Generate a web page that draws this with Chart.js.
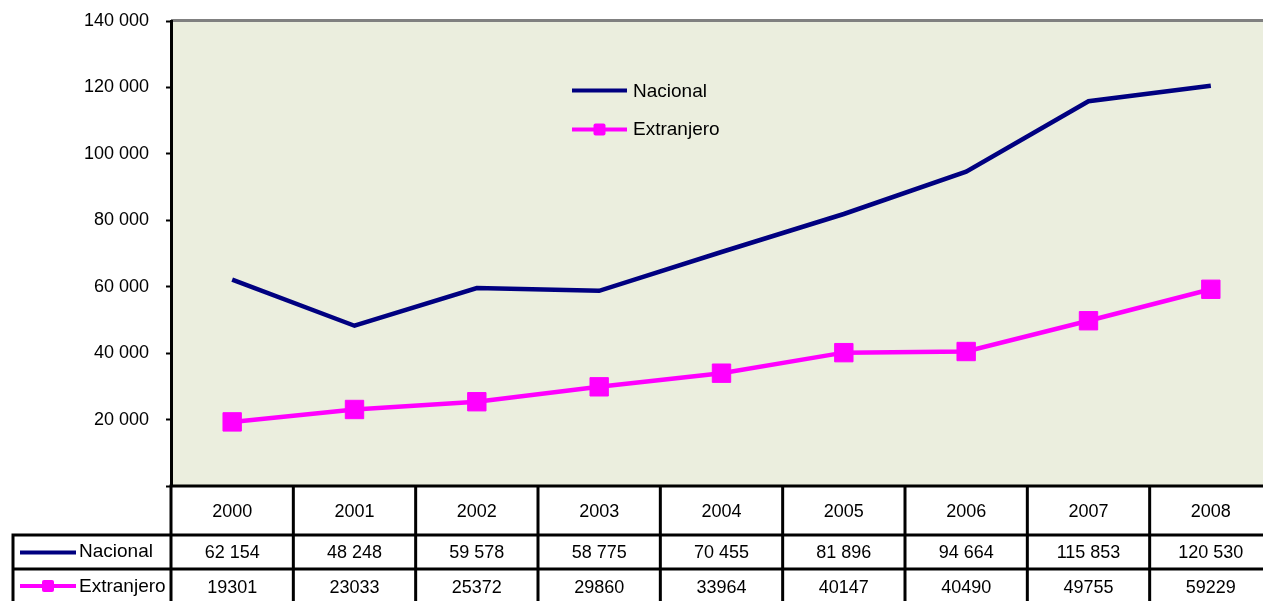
<!DOCTYPE html>
<html><head><meta charset="utf-8">
<script src="https://cdn.jsdelivr.net/npm/chart.js@4.4.1/dist/chart.umd.min.js"></script>
<style>html,body{margin:0;padding:0;overflow:hidden;background:#fff}canvas{display:block}</style>
</head><body>
<canvas id="c" width="1276" height="601"></canvas>
<script>
const years = ['2000','2001','2002','2003','2004','2005','2006','2007','2008'];
const nacional = [62154, 48248, 59578, 58775, 70455, 81896, 94664, 115853, 120530];
const extranjero = [19301, 23033, 25372, 29860, 33964, 40147, 40490, 49755, 59229];
const yTickValues = [0, 20000, 40000, 60000, 80000, 100000, 120000, 140000];
const seriesNames = ['Nacional', 'Extranjero'];

const FAM = '"Liberation Sans", Arial, sans-serif';
const FONT = '18px ' + FAM;
const NAVY = '#000080', MAG = '#FF00FF';
const fmt = v => String(v).replace(/\B(?=(\d{3})+(?!\d))/g, ' ');

function drawSwatch(ctx, x1, x2, y, color, marker, msize) {
  ctx.save();
  ctx.strokeStyle = color; ctx.lineWidth = 4; ctx.lineCap = 'butt';
  ctx.beginPath(); ctx.moveTo(x1, y); ctx.lineTo(x2, y); ctx.stroke();
  if (marker) {
    ctx.fillStyle = color;
    const cx = (x1 + x2) / 2;
    ctx.beginPath();
    if (ctx.roundRect) ctx.roundRect(cx - msize / 2, y - msize / 2, msize, msize, 2);
    else ctx.rect(cx - msize / 2, y - msize / 2, msize, msize);
    ctx.fill();
  }
  ctx.restore();
}

const deco = {
  id: 'deco',
  beforeDraw(chart) {
    const {ctx, chartArea: a} = chart;
    ctx.save();
    ctx.fillStyle = '#EBEEDE';
    ctx.fillRect(a.left, a.top, a.right - a.left, a.bottom - a.top);
    ctx.strokeStyle = '#808080'; ctx.lineWidth = 3;
    ctx.beginPath(); ctx.moveTo(a.left, a.top - 0.5); ctx.lineTo(chart.width, a.top - 0.5); ctx.stroke();
    ctx.restore();
  },
  afterDraw(chart) {
    const {ctx, chartArea: a} = chart;
    const xs = chart.scales.x;
    const n = years.length;
    const colW = (a.right - a.left) / n;
    const yTop = a.bottom, yH = 535, yR1 = 569, yEnd = chart.height + 2;
    const leftX = 13;
    ctx.save();
    ctx.fillStyle = '#fff';
    ctx.fillRect(a.left, yTop, chart.width - a.left, yEnd - yTop);
    ctx.strokeStyle = '#000'; ctx.lineWidth = 3;
    ctx.beginPath();
    ctx.moveTo(a.left - 1.5, yTop); ctx.lineTo(chart.width, yTop);
    ctx.moveTo(leftX - 1.5, yH); ctx.lineTo(chart.width, yH);
    ctx.moveTo(leftX - 1.5, yR1); ctx.lineTo(chart.width, yR1);
    for (let i = 0; i <= n; i++) {
      const x = a.left + i * colW;
      ctx.moveTo(x, yTop); ctx.lineTo(x, yEnd);
    }
    ctx.moveTo(leftX, yH); ctx.lineTo(leftX, yEnd);
    ctx.stroke();

    ctx.fillStyle = '#000'; ctx.font = FONT;
    ctx.textAlign = 'center'; ctx.textBaseline = 'middle';
    for (let i = 0; i < n; i++) {
      const cx = xs.getPixelForValue(i);
      ctx.fillText(years[i], cx, 512);
      ctx.fillText(fmt(nacional[i]), cx, 553);
      ctx.fillText(String(extranjero[i]), cx, 588);
    }
    drawSwatch(ctx, 20, 76, 552.5, NAVY, false);
    drawSwatch(ctx, 20, 76, 586, MAG, true, 12);
    ctx.textAlign = 'left';
    ctx.font = '19px ' + FAM;
    ctx.fillText(seriesNames[0], 79, 552);
    ctx.fillText(seriesNames[1], 79, 587);

    drawSwatch(ctx, 572, 627, 90.5, NAVY, false);
    drawSwatch(ctx, 572, 627, 129.5, MAG, true, 12);
    ctx.fillText(seriesNames[0], 633, 92);
    ctx.fillText(seriesNames[1], 633, 130);
    ctx.restore();
  }
};

new Chart(document.getElementById('c'), {
  type: 'line',
  data: {
    labels: years,
    datasets: [
      { label: seriesNames[0], data: nacional, borderColor: NAVY, backgroundColor: NAVY,
        borderWidth: 4.5, pointRadius: 0, tension: 0, fill: false },
      { label: seriesNames[1], data: extranjero, borderColor: MAG, backgroundColor: MAG,
        borderWidth: 4.5, pointStyle: 'rect', pointRadius: 13, pointBorderWidth: 1,
        pointBorderColor: MAG, pointBackgroundColor: MAG, tension: 0, fill: false }
    ]
  },
  options: {
    responsive: false, animation: false, devicePixelRatio: 1,
    layout: { autoPadding: false, padding: { left: 0, top: 21, right: 4, bottom: 115 } },
    plugins: { legend: { display: false }, tooltip: { enabled: false } },
    scales: {
      x: { display: false, offset: true },
      y: {
        min: 0, max: 140000,
        afterFit(s) { s.width = 171; s.paddingTop = 0; s.paddingBottom = 0; },
        afterBuildTicks(s) { s.ticks = yTickValues.map(v => ({ value: v })); },
        ticks: { color: '#000', font: { family: FAM, size: 18 }, padding: 17,
                 callback: v => v === 0 ? '' : fmt(v) },
        grid: { drawOnChartArea: false, drawTicks: true, tickLength: 5, tickColor: '#000', tickWidth: 2 },
        border: { display: true, color: '#000', width: 3 }
      }
    }
  },
  plugins: [deco]
});
</script>
</body></html>
